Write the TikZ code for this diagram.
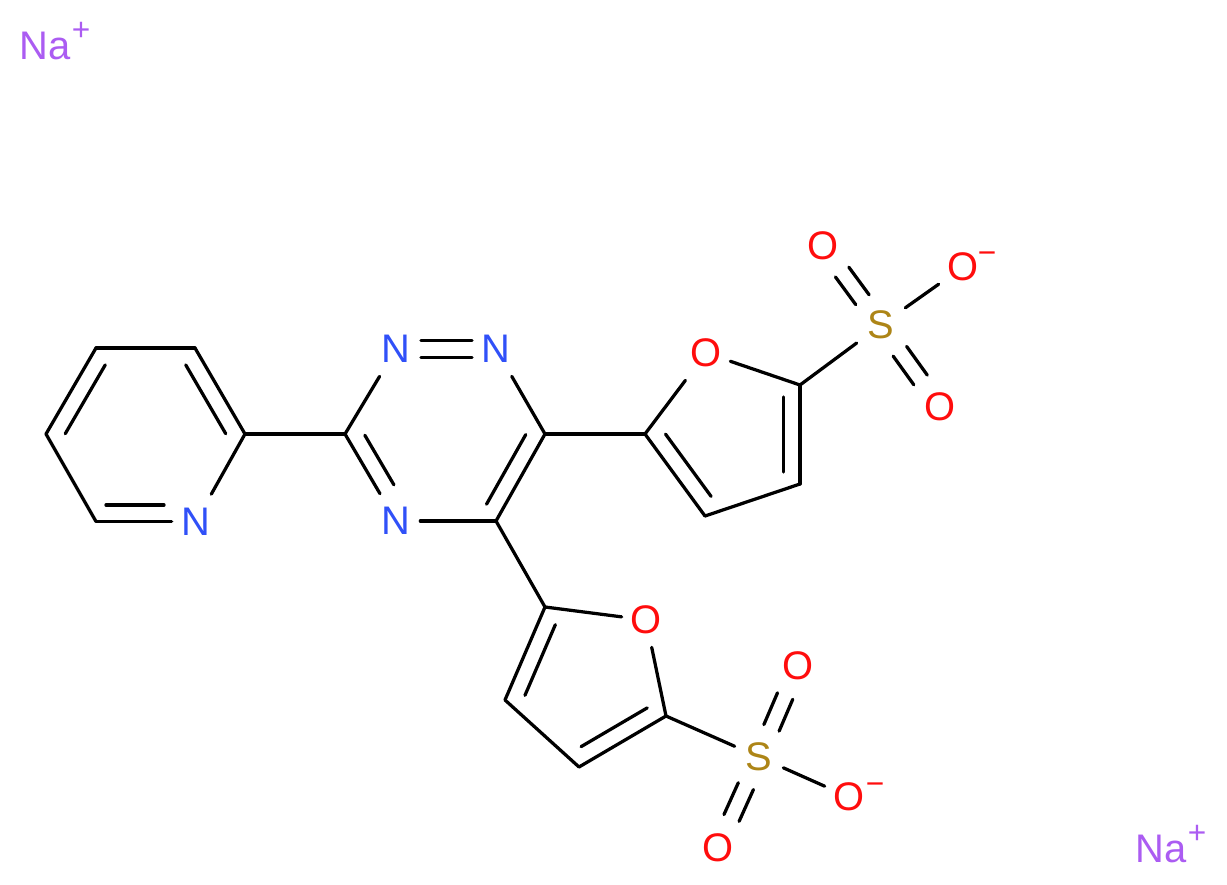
\documentclass[tikz,border=0pt]{standalone}
\usepackage{fontspec}
\setmainfont{Liberation Sans}
\usepackage{xcolor}
\usetikzlibrary{calc}
\definecolor{nitrogen}{HTML}{3050F8}
\definecolor{oxygen}{HTML}{FF0D0D}
\definecolor{sulfur}{HTML}{AD8517}
\definecolor{sodium}{HTML}{AB5CF2}
\tikzset{
  atom/.style={inner sep=0pt,minimum width=0.96cm,minimum height=1.08cm,font=\fontsize{22.7}{24}\selectfont},
  charge/.style={inner sep=0pt,font=\fontsize{18}{19}\selectfont},
  bond/.style={line width=1.85pt,line cap=round}
}
\begin{document}
\begin{tikzpicture}[x=0.02cm,y=-0.02cm]
\useasboundingbox (0,0) rectangle (1227,885);
% pyridine
\node[atom,text=nitrogen] (pN) at (196,521.5) {N};
\coordinate (pC2) at (245,434);
\coordinate (pC3) at (195,348);
\coordinate (pC4) at (96,348);
\coordinate (pC5) at (46,434);
\coordinate (pC6) at (96,521.5);
% triazine
\coordinate (tC3) at (345,434);
\node[atom,text=nitrogen] (tN2) at (396,349) {N};
\node[atom,text=nitrogen] (tN1) at (496,349) {N};
\coordinate (tC6) at (545,434);
\coordinate (tC5) at (496,521);
\node[atom,text=nitrogen] (tN4) at (396,521) {N};
% upper furan
\coordinate (aC2) at (645,434);
\node[atom,text=oxygen] (aO) at (706,353) {O};
\coordinate (aC5) at (800,385);
\coordinate (aC4) at (800,484);
\coordinate (aC3) at (705,516);
\node[atom,text=sulfur] (aS) at (881,325) {S};
\node[atom,text=oxygen] (aO1) at (823,246) {O};
\node[atom,text=oxygen] (aO2) at (940,407) {O};
\node[atom,text=oxygen] (aO3) at (963,267) {O};
\node[charge,text=oxygen] (aMinus) at (987,257.5) {−};
% lower furan
\coordinate (bC2) at (545,607);
\node[atom,text=oxygen] (bO) at (646,620) {O};
\coordinate (bC5) at (666,716);
\coordinate (bC4) at (579,767);
\coordinate (bC3) at (505,700);
\node[atom,text=sulfur] (bS) at (759,757) {S};
\node[atom,text=oxygen] (bO1) at (798,666) {O};
\node[atom,text=oxygen] (bO2) at (718,848) {O};
\node[atom,text=oxygen] (bO3) at (849,797) {O};
\node[charge,text=oxygen] (bMinus) at (875,788.5) {−};
% sodium
\node[atom,text=sodium] (naA) at (45,46) {Na};
\node[charge,text=sodium] (naAplus) at (81,31) {+};
\node[atom,text=sodium] (naB) at (1161,849) {Na};
\node[charge,text=sodium] (naBplus) at (1197,834) {+};
% bonds
\foreach \a/\b in {pN/pC2,pC2/pC3,pC3/pC4,pC4/pC5,pC5/pC6,pC6/pN,pC2/tC3,
  tC3/tN2,tC3/tN4,tN4/tC5,tC5/tC6,tC6/tN1,tC6/aC2,tC5/bC2,
  aC2/aC3,aC3/aC4,aC4/aC5,aC5/aO,aO/aC2,aC5/aS,aS/aO3,
  bC2/bC3,bC3/bC4,bC4/bC5,bC5/bO,bO/bC2,bC5/bS,bS/bO3}{
\draw[bond] (\a) -- (\b);
}
% inner lines of the ring double bonds
\foreach \a/\b/\s/\e in {pC2/pC3/0.1/0.9,pC4/pC5/0.1/0.9,pC6/pN/0.1/0.68,
  tC3/tN4/0.11/0.68,tC5/tC6/0.1/0.9,aC2/aC3/0.12/0.88,aC4/aC5/0.12/0.88,
  bC2/bC3/0.12/0.88,bC4/bC5/0.12/0.88}{
\draw[bond] ($(\a)!\s!(\b)!0.33cm!90:(\b)$) -- ($(\a)!\e!(\b)!0.33cm!90:(\b)$);
}
% double bonds between two labels
\foreach \a/\b/\s/\e in {tN2/tN1/0.25/0.76,aS/aO1/0.32/0.67,aS/aO2/0.32/0.67,bS/bO1/0.32/0.67,bS/bO2/0.32/0.67}{
\draw[bond] ($(\a)!\s!(\b)!0.166cm!90:(\b)$) -- ($(\a)!\e!(\b)!0.166cm!90:(\b)$);
\draw[bond] ($(\a)!\s!(\b)!0.166cm!-90:(\b)$) -- ($(\a)!\e!(\b)!0.166cm!-90:(\b)$);
}
\end{tikzpicture}
\end{document}
